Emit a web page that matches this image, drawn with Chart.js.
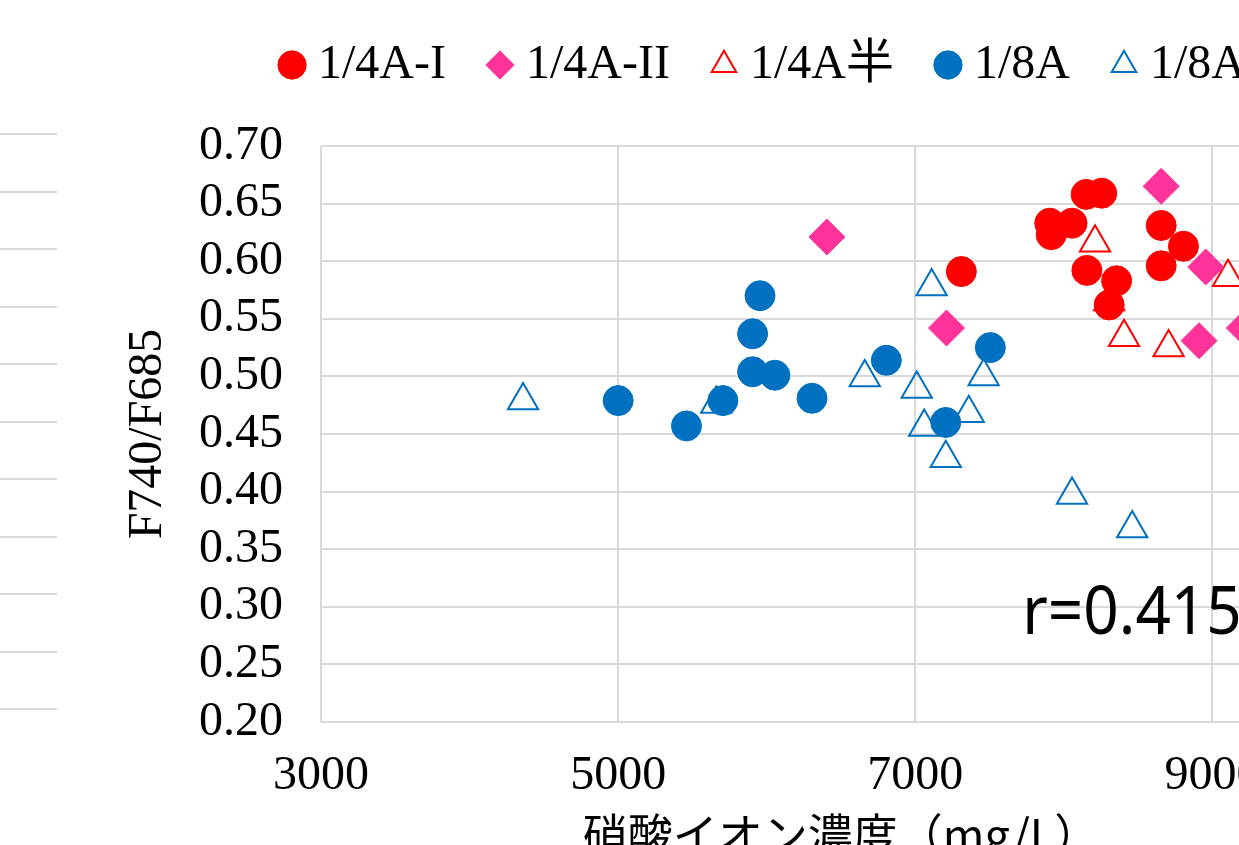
<!DOCTYPE html>
<html lang="ja">
<head>
<meta charset="utf-8">
<title>F740/F685 と硝酸イオン濃度</title>
<script src="https://cdn.jsdelivr.net/npm/chart.js@4.4.1/dist/chart.umd.min.js"></script>
<style>
  html, body { margin: 0; padding: 0; background: #fff; overflow: hidden; width: 1239px; height: 845px; }
  #side { position: absolute; left: -300px; top: 0; width: 357px; height: 720px; }
  #main { position: absolute; left: 0; top: 0; width: 1584px; height: 880px; }
</style>
</head>
<body>
<div id="side"><canvas id="sideChart"></canvas></div>
<div id="main"><canvas id="chart"></canvas></div>
<script>
// series names (legend order)
const seriesNames = ['1/4A-I', '1/4A-II', '1/4A半', '1/8A', '1/8A半'];

// 1/4A-I  (red circles)
const a4iX = [7310, 7905, 7915, 8055, 8150, 8255, 8155, 8355, 8305, 8655, 8655, 8805];
const a4iY = [0.591, 0.633, 0.623, 0.633, 0.658, 0.659, 0.592, 0.583, 0.562, 0.631, 0.596, 0.613];

// 1/4A-II (pink diamonds)
const a4iiX = [6405, 7210, 8655, 8955, 8910, 9215];
const a4iiY = [0.621, 0.542, 0.665, 0.595, 0.531, 0.542];

// 1/4A半 (red open triangles)
const a4hX = [8210, 8305, 8405, 8705, 9105];
const a4hY = [0.616, 0.565, 0.534, 0.525, 0.586];

// 1/8A (blue circles)
const a8X = [5000, 5460, 5705, 5955, 5905, 5905, 6055, 6305, 6805, 7205, 7505];
const a8Y = [0.479, 0.457, 0.479, 0.570, 0.537, 0.504, 0.501, 0.481, 0.514, 0.460, 0.525];

// 1/8A半 (blue open triangles)
const a8hX = [4360, 5660, 6660, 7010, 7060, 7205, 7110, 7460, 7360, 8055, 8460];
const a8hY = [0.479, 0.476, 0.499, 0.489, 0.456, 0.429, 0.578, 0.500, 0.468, 0.397, 0.368];

// axes
const xTicks = [3000, 5000, 7000, 9000];
const yTicks = [0.20, 0.25, 0.30, 0.35, 0.40, 0.45, 0.50, 0.55, 0.60, 0.65, 0.70];
const xTitle = '硝酸イオン濃度（mg/L）';
const yTitle = 'F740/F685';
const rText = 'r=0.415';

const toPoints = (xs, ys) => xs.map((x, i) => ({ x: x, y: ys[i] }));

Chart.defaults.font.family = "'Liberation Serif', 'Noto Sans CJK JP', serif";
Chart.defaults.font.size = 48;
Chart.defaults.color = '#000';

const gridColor = '#d9d9d9';

// leaves room between the legend and the plot
const legendGap = {
  id: 'legendGap',
  beforeInit(chart) {
    const fit = chart.legend.fit;
    chart.legend.fit = function () {
      fit.call(this);
      this.height += 47;
    };
  }
};

// correlation note
const rNote = {
  id: 'rNote',
  afterDatasetsDraw(chart) {
    const { ctx, scales } = chart;
    ctx.save();
    ctx.font = "62px 'Noto Sans', sans-serif";
    ctx.fillStyle = '#000';
    ctx.textBaseline = 'alphabetic';
    ctx.translate(scales.x.getPixelForValue(7720), scales.y.getPixelForValue(0.276));
    ctx.scale(1, 1.08);
    ctx.fillText(rText, 0, 0);
    ctx.restore();
  }
};

new Chart(document.getElementById('chart'), {
  type: 'scatter',
  data: {
    datasets: [
      { label: seriesNames[0], data: toPoints(a4iX, a4iY), pointStyle: 'circle', pointRadius: 15,
        backgroundColor: '#ff0000', borderColor: '#ff0000', borderWidth: 1 },
      { label: seriesNames[1], data: toPoints(a4iiX, a4iiY), pointStyle: 'rectRot', pointRadius: 18,
        backgroundColor: '#ff3399', borderColor: '#ff3399', borderWidth: 1 },
      { label: seriesNames[2], data: toPoints(a4hX, a4hY), pointStyle: 'triangle', pointRadius: 17.5,
        backgroundColor: 'rgba(255,255,255,0)', borderColor: '#ff0000', borderWidth: 2 },
      { label: seriesNames[3], data: toPoints(a8X, a8Y), pointStyle: 'circle', pointRadius: 15,
        backgroundColor: '#0070c0', borderColor: '#0070c0', borderWidth: 1 },
      { label: seriesNames[4], data: toPoints(a8hX, a8hY), pointStyle: 'triangle', pointRadius: 17.5,
        backgroundColor: 'rgba(255,255,255,0)', borderColor: '#0070c0', borderWidth: 2 }
    ]
  },
  options: {
    responsive: true,
    maintainAspectRatio: false,
    animation: false,
    layout: { padding: { top: -11, left: 0, right: 0, bottom: 0 } },
    plugins: {
      legend: {
        position: 'top',
        labels: { usePointStyle: true, boxWidth: 4, boxHeight: 20, padding: 52, color: '#000', font: { size: 48 } }
      },
      tooltip: { enabled: false }
    },
    scales: {
      x: {
        type: 'linear',
        position: 'bottom',
        min: 3000,
        max: 10000,
        afterBuildTicks: s => { s.ticks = xTicks.map(v => ({ value: v })); },
        afterFit: s => { s.height = 158; },
        ticks: { padding: 26, color: '#000', autoSkip: false, maxRotation: 0, callback: v => String(v) },
        grid: { color: gridColor, lineWidth: 2, drawTicks: false },
        border: { display: false },
        title: {
          display: true, text: xTitle, color: '#000',
          font: { family: "'Noto Sans CJK JP', sans-serif", size: 45 },
          padding: { top: 0, bottom: 18 }
        }
      },
      y: {
        type: 'linear',
        position: 'left',
        min: 0.2,
        max: 0.7,
        afterBuildTicks: s => { s.ticks = yTicks.map(v => ({ value: v })); },
        afterFit: s => { s.width = 321; },
        ticks: { padding: 38, color: '#000', autoSkip: false, callback: v => v.toFixed(2) },
        grid: { color: gridColor, lineWidth: 2, drawTicks: false },
        border: { display: false },
        title: { display: true, text: yTitle, color: '#000', padding: { top: 120, bottom: 0 } }
      },
      yPad: {
        type: 'linear',
        position: 'right',
        afterFit: s => { s.width = 223; },
        ticks: { display: false },
        grid: { display: false, drawTicks: false },
        border: { display: false }
      }
    }
  },
  plugins: [legendGap, rNote]
});

// edge of the neighbouring chart on the left
new Chart(document.getElementById('sideChart'), {
  type: 'scatter',
  data: { datasets: [] },
  options: {
    responsive: true,
    maintainAspectRatio: false,
    animation: false,
    layout: { padding: { top: 134, bottom: 11, left: 0, right: 0 } },
    plugins: { legend: { display: false }, tooltip: { enabled: false } },
    scales: {
      x: { display: false, min: 0, max: 1 },
      y: {
        min: 0, max: 10,
        ticks: { display: false, stepSize: 1 },
        grid: { color: gridColor, lineWidth: 2, drawTicks: false },
        border: { display: false }
      }
    }
  }
});
</script>
</body>
</html>
